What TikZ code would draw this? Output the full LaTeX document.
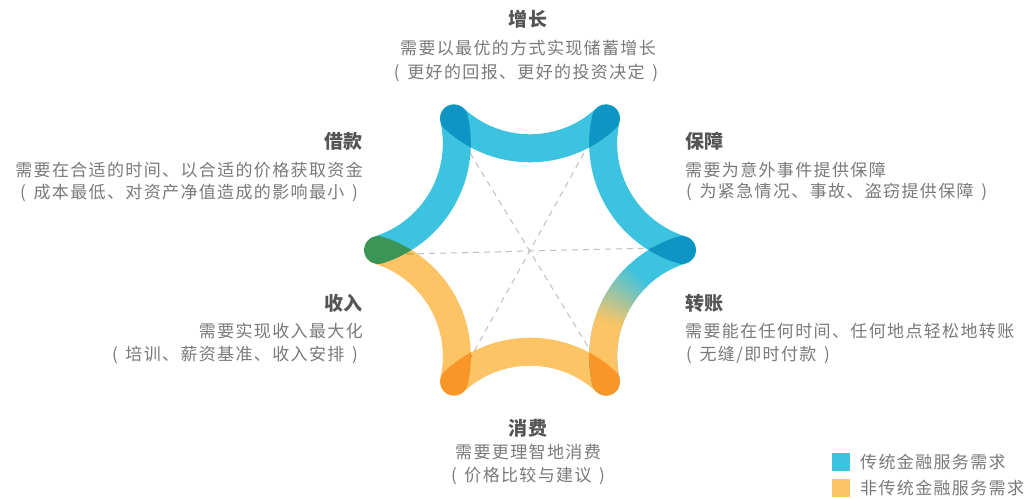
\documentclass[tikz,border=0pt]{standalone}
\usepackage{fontspec}
\setmainfont{Noto Sans CJK SC}
\newfontfamily\cjkbody[LetterSpace=8]{Noto Sans CJK SC}
\newfontfamily\cjktitle[LetterSpace=4]{Noto Sans CJK SC}
\usetikzlibrary{calc}
\definecolor{bl}{HTML}{3CC3E0}
\definecolor{og}{HTML}{FCC464}
\definecolor{tt}{HTML}{555555}
\definecolor{tx}{HTML}{7A7A7A}
\definecolor{dl}{HTML}{BFBFBF}
\newcommand{\lp}{(\hspace{0.45em}}
\newcommand{\rp}{\hspace{0.45em})}
\begin{document}
\begin{tikzpicture}[x=1pt,y=1pt,
  band/.style={line width=28pt, line cap=round},
  ttl/.style={font=\cjktitle\bfseries\fontsize{19}{19}\selectfont, text=tt, inner sep=0pt},
  body/.style={font=\cjkbody\fontsize{17}{17}\selectfont, text=tx, inner sep=0pt},
  guide/.style={draw=dl, dash pattern=on 6pt off 5pt, line width=1pt},
  key/.style={minimum size=18pt, inner sep=0pt}]
\useasboundingbox (0,0) rectangle (1035,-498);
\fill[white] (0,0) rectangle (1035,-498);
\coordinate (O) at (530,-250);
\foreach \n/\a in {R/0,TR/60,TL/120,L/180,BL/240,BR/300}
  \coordinate (\n) at ($(O)+(\a:152)$);
\coordinate (Cg) at ($(O)+(-30:213.1)$);
% dashed guides
\coordinate (dTL) at (470,-153);
\coordinate (dBR) at (593,-355);
\coordinate (dTR) at (584,-153);
\coordinate (dBL) at (471,-357);
\coordinate (dL) at (407,-254);
\coordinate (dR) at (652,-248);
\draw[guide] (dTL) -- (dBR);
\draw[guide] (dTR) -- (dBL);
\draw[guide] (dL) -- (dR);
% gradient side R -> BR
\draw[band, bl] (R) arc[start angle=107, end angle=193, radius=111.4];
\draw[band, og] ($(Cg)+(163:111.4)$) arc[start angle=163, end angle=193, radius=111.4];
\foreach \k in {0,...,14} {
  \pgfmathsetmacro\aS{133+\k*2-0.3}
  \pgfmathsetmacro\aE{133+(\k+1)*2+0.3}
  \pgfmathsetmacro\p{(\k+0.5)/15*100}
  \draw[line width=28pt, color=og!\p!bl] ($(Cg)+(\aS:111.4)$) arc[start angle=\aS, end angle=\aE, radius=111.4];
}
\begin{scope}[blend mode=multiply]
  \draw[band, bl] (TL) arc[start angle=227, end angle=313, radius=111.4];
  \draw[band, bl] (TR) arc[start angle=167, end angle=253, radius=111.4];
  \draw[band, og] (BR) arc[start angle=47, end angle=133, radius=111.4];
  \draw[band, og] (BL) arc[start angle=-13, end angle=73, radius=111.4];
  \draw[band, bl] (L) arc[start angle=287, end angle=373, radius=111.4];
\end{scope}
% texts
\node[ttl] (t1) at (528,-19) {增长};
\node[body] (t1a) at (528,-48) {需要以最优的方式实现储蓄增长};
\node[body] (t1b) at (526,-73) {\lp 更好的回报、更好的投资决定\rp};
\node[ttl, anchor=east] (t2) at (363,-141) {借款};
\node[body, anchor=east] (t2a) at (363,-170) {需要在合适的时间、以合适的价格获取资金};
\node[body, anchor=east] (t2b) at (358,-193) {\lp 成本最低、对资产净值造成的影响最小\rp};
\node[ttl, anchor=west] (t3) at (685,-141) {保障};
\node[body, anchor=west] (t3a) at (685,-170) {需要为意外事件提供保障};
\node[body, anchor=west] (t3b) at (686,-192) {\lp 为紧急情况、事故、盗窃提供保障\rp};
\node[ttl, anchor=east] (t4) at (363,-303) {收入};
\node[body, anchor=east] (t4a) at (363,-331) {需要实现收入最大化};
\node[body, anchor=east] (t4b) at (358,-355) {\lp 培训、薪资基准、收入安排\rp};
\node[ttl, anchor=west] (t5) at (685,-303) {转账};
\node[body, anchor=west] (t5a) at (685,-331) {需要能在任何时间、任何地点轻松地转账};
\node[body, anchor=west] (t5b) at (686,-355) {\lp 无缝/即时付款\rp};
\node[ttl] (t6) at (528,-428) {消费};
\node[body] (t6a) at (528,-452) {需要更理智地消费};
\node[body] (t6b) at (528,-476) {\lp 价格比较与建议\rp};
% legend
\node[key, fill=bl] (k1) at (841,-462) {};
\node[key, fill=og] (k2) at (841,-488) {};
\node[body, anchor=west] (l1) at (860,-462) {传统金融服务需求};
\node[body, anchor=west] (l2) at (860,-488) {非传统金融服务需求};
\end{tikzpicture}
\end{document}
